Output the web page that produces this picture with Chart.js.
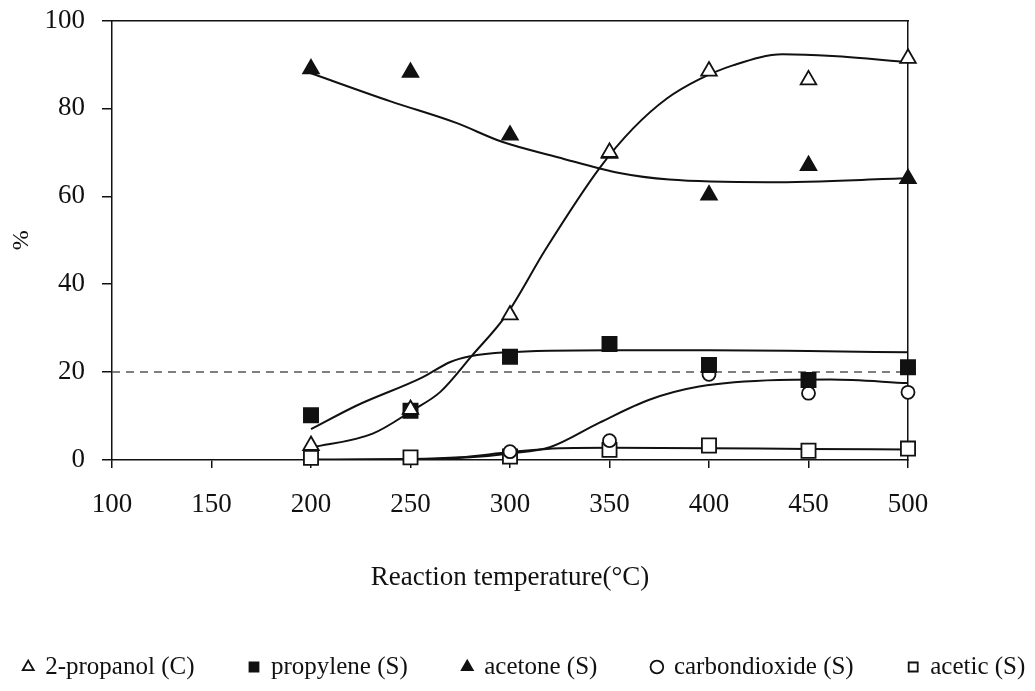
<!DOCTYPE html>
<html>
<head>
<meta charset="utf-8">
<script src="https://cdn.jsdelivr.net/npm/chart.js@4"></script>
<style>
  html, body { margin: 0; padding: 0; background: #fff; }
  #caixa { width: 1035px; height: 691px; }
</style>
</head>
<body>
<div id="caixa"><canvas id="grafico" width="1035" height="691"></canvas></div>
<script>
// temperaturas medidas (eixo x)
const temperaturas = [200, 250, 300, 350, 400, 450, 500];

// pontos medidos (%)
const propanol = [3.3, 11.5, 33, 70, 88.5, 86.5, 91.4];
const propileno = [10.2, 11.2, 23.5, 26.4, 21.6, 18.2, 21.1];
const acetona = [89, 88.2, 73.9, 69.8, 60.3, 67, 64];
const co2 = [null, null, 1.9, 4.4, 19.5, 15.2, 15.4];
const acetico = [0.5, 0.6, 0.8, 2.3, 3.3, 2.1, 2.6];

// curvas de ajuste
const curvaPropanolX = [200, 231, 251, 265, 281, 298, 318, 345, 362, 379, 395, 412, 437, 462, 500];
const curvaPropanolY = [2.8, 6, 11.3, 15.5, 23.8, 32.9, 48, 66.4, 75.5, 82.3, 86.6, 89.8, 92.3, 91.9, 90.5];
const curvaPropilenoX = [200, 223, 256, 270, 280, 298, 350, 400, 450, 500];
const curvaPropilenoY = [7, 12.4, 18.8, 22.3, 23.6, 24.5, 25, 25, 24.8, 24.5];
const curvaAcetonaX = [200, 240, 273, 296, 324, 355, 380, 430, 500];
const curvaAcetonaY = [88, 81.6, 76.7, 72.4, 68.9, 65.3, 63.8, 63.2, 64.1];
const curvaCo2X = [200, 250, 280, 300, 320, 345, 370, 395, 435, 461, 500];
const curvaCo2Y = [0, 0.1, 0.6, 1.5, 2.9, 8.5, 13.7, 16.7, 18.2, 18.3, 17.5];
const curvaAceticoX = [200, 250, 275, 300, 325, 350, 400, 450, 500];
const curvaAceticoY = [0.1, 0.2, 0.6, 1.8, 2.7, 2.8, 2.7, 2.5, 2.4];

// linha tracejada de referência
const referenciaX = [100, 500];
const referenciaY = [20, 20];

const fonte = "'Liberation Serif', 'Times New Roman', serif";
const preto = '#111';

function pontos(xs, ys) {
    return xs.map((x, i) => ({ x: x, y: ys[i] })).filter(p => p.y !== null);
}

function marcador(label, ys, estilo, cheio, raio) {
    return {
        label: label,
        data: pontos(temperaturas, ys),
        showLine: false,
        pointStyle: estilo,
        pointRadius: raio,
        pointBackgroundColor: cheio ? preto : '#fff',
        pointBorderColor: preto,
        pointBorderWidth: 1.8,
        borderColor: preto,
        backgroundColor: cheio ? preto : '#fff',
        clip: false
    };
}

function curva(xs, ys) {
    return {
        label: 'curva',
        data: pontos(xs, ys),
        borderColor: preto,
        borderWidth: 2,
        pointRadius: 0,
        cubicInterpolationMode: 'monotone',
        fill: false
    };
}

// margens: a legenda ocupa mais largura que o canvas
const margemEsq = 43;
const margemDir = 57;
const espacoLegenda = 55;
const tamanhoLegenda = 25;
const margemBaixo = 1.5;
const topoLegenda = 691 - margemBaixo - (tamanhoLegenda + espacoLegenda + 10);
const fundoArea = 460;

new Chart(document.getElementById('grafico').getContext('2d'), {
    type: 'line',
    data: {
        datasets: [
            marcador('2-propanol (C)', propanol, 'triangle', false, 9),
            marcador('propylene (S)', propileno, 'rect', true, 10),
            marcador('acetone (S)', acetona, 'triangle', true, 9),
            marcador('carbondioxide (S)', co2, 'circle', false, 6.5),
            marcador('acetic (S)', acetico, 'rect', false, 10),
            curva(curvaPropanolX, curvaPropanolY),
            curva(curvaPropilenoX, curvaPropilenoY),
            curva(curvaAcetonaX, curvaAcetonaY),
            curva(curvaCo2X, curvaCo2Y),
            curva(curvaAceticoX, curvaAceticoY),
            {
                label: 'referencia',
                data: pontos(referenciaX, referenciaY),
                borderColor: '#555',
                borderWidth: 1.5,
                borderDash: [8, 6],
                pointRadius: 0
            }
        ]
    },
    options: {
        responsive: false,
        animation: false,
        devicePixelRatio: 1,
        events: [],
        layout: { padding: { left: -margemEsq, right: -margemDir, top: 0, bottom: margemBaixo } },
        plugins: {
            tooltip: { enabled: false },
            legend: {
                position: 'bottom',
                labels: {
                    usePointStyle: true,
                    boxWidth: 9,
                    boxHeight: 9,
                    padding: espacoLegenda,
                    color: preto,
                    font: { family: fonte, size: tamanhoLegenda },
                    filter: item => item.datasetIndex < 5
                }
            }
        },
        scales: {
            x: {
                type: 'linear',
                position: 'bottom',
                min: 100,
                max: 500,
                ticks: { stepSize: 50, color: preto, padding: 21, font: { family: fonte, size: 27 } },
                grid: { drawOnChartArea: false, tickLength: 8, color: preto, lineWidth: 1.5 },
                border: { color: preto, width: 1.5 },
                title: {
                    display: true,
                    text: 'Reaction temperature(°C)',
                    color: preto,
                    font: { family: fonte, size: 27 },
                    padding: { top: 4, bottom: 5 }
                },
                afterFit: s => { s.height = topoLegenda - fundoArea; }
            },
            y: {
                min: 0,
                max: 100,
                ticks: { stepSize: 20, color: preto, padding: 17, font: { family: fonte, size: 27 } },
                grid: { drawOnChartArea: false, tickLength: 10, color: preto, lineWidth: 1.5 },
                border: { color: preto, width: 1.5 },
                title: {
                    display: true,
                    text: '%',
                    color: preto,
                    font: { family: fonte, size: 24 },
                    padding: { top: 22 + margemEsq - 14.4, bottom: 0 }
                },
                afterFit: s => {
                    s.width = 112 + margemEsq;
                    s.paddingTop = 0;
                    s.paddingBottom = 0;
                }
            },
            xTopo: {
                type: 'linear',
                position: 'top',
                min: 100,
                max: 500,
                ticks: { display: false },
                grid: { display: false },
                border: { color: preto, width: 1.5 },
                afterFit: s => { s.height = 20.5; }
            },
            yDireita: {
                position: 'right',
                min: 0,
                max: 100,
                ticks: { display: false },
                grid: { display: false },
                border: { color: preto, width: 1.5 },
                afterFit: s => { s.width = 127 + margemDir; }
            }
        }
    }
});
</script>
</body>
</html>
